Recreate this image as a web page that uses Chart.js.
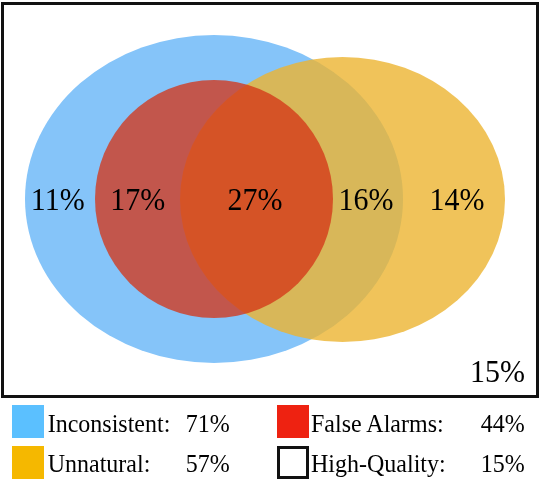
<!DOCTYPE html>
<html>
<head>
<meta charset="utf-8">
<script src="https://cdn.jsdelivr.net/npm/chart.js@4"></script>
<style>
  html, body { margin: 0; padding: 0; background: #fff; }
  #wrap { position: relative; width: 540px; height: 480px; overflow: hidden; font-family: "Liberation Serif", "Times New Roman", serif; color: #000; }
  #c { position: absolute; left: 0; top: 0; }
  #box { position: absolute; left: 1px; top: 2px; width: 538px; height: 396px; border: 3px solid #111; box-sizing: border-box; pointer-events: none; }
  .sw { position: absolute; width: 32px; height: 33px; box-sizing: border-box; }
  .lt { position: absolute; font-size: 24px; line-height: 24px; white-space: nowrap; transform: scaleY(1.06); transform-origin: 0 20px; }
</style>
</head>
<body>
<div id="wrap">
  <canvas id="c" width="540" height="480"></canvas>
  <div id="box"></div>
  <div id="legend"></div>
</div>
<script>
// ---- data ----
const regionNames = ['Inconsistent only', 'Inconsistent + False Alarms', 'All three', 'Inconsistent + Unnatural', 'Unnatural only', 'High-Quality'];
const regionValues = [11, 17, 27, 16, 14, 15];
const setNames = ['Inconsistent', 'Unnatural', 'False Alarms', 'High-Quality'];
const setValues = [71, 57, 44, 15];

// ---- layout (geometry & styles, kept apart from the data) ----
const setShapes = [
  { cx: 214,   cy: 199,   rx: 189,   ry: 164,   fill: 'rgb(133,196,249)' },
  { cx: 342.5, cy: 199.5, rx: 162.5, ry: 142.5, fill: 'rgba(236,180,49,0.8)' },
  { cx: 214,   cy: 199,   rx: 119,   ry: 119,   fill: 'rgba(212,53,23,0.77)' }
];
const regionAnchors = [
  { x: 57.8, y: 209.5 }, { x: 137.8, y: 209.5 }, { x: 255, y: 209.5 },
  { x: 366, y: 210 }, { x: 457, y: 210 }, { x: 497.5, y: 382 }
];
const legendSwatch = ['#5BC0FF', '#F5B800', '#EE2211', '#FFFFFF'];
const legendPos = [
  { sx: 12, sy: 405, tx: 47.7, px: 185.7, ty: 411.6 },
  { sx: 12, sy: 446, tx: 47.7, px: 185.7, ty: 451.6 },
  { sx: 277, sy: 405, tx: 311, px: 480.7, ty: 411.6 },
  { sx: 277, sy: 446, tx: 311, px: 480.7, ty: 451.6 }
];

// ---- chart ----
const datasets = setShapes.map((s, i) => ({
  label: setNames[i],
  data: [{ x: s.cx, y: s.cy }],
  pointRadius: 0,
  backgroundColor: s.fill,
  vennShape: s
}));
datasets.push({
  label: 'regions',
  data: regionAnchors.map(a => ({ x: a.x, y: a.y })),
  pointRadius: 0,
  regionText: regionValues.map(v => v + '%')
});

const vennPlugin = {
  id: 'venn',
  beforeDatasetsDraw(chart) {
    const ctx = chart.ctx, xs = chart.scales.x, ys = chart.scales.y;
    chart.data.datasets.forEach((ds, i) => {
      if (!ds.vennShape) return;
      const el = chart.getDatasetMeta(i).data[0];
      const s = ds.vennShape;
      const rxp = Math.abs(xs.getPixelForValue(s.cx + s.rx) - el.x);
      const ryp = Math.abs(ys.getPixelForValue(s.cy + s.ry) - el.y);
      ctx.save();
      ctx.beginPath();
      ctx.ellipse(el.x, el.y, rxp, ryp, 0, 0, Math.PI * 2);
      ctx.fillStyle = ds.backgroundColor;
      ctx.fill();
      ctx.restore();
    });
  },
  afterDatasetsDraw(chart) {
    const ctx = chart.ctx;
    chart.data.datasets.forEach((ds, i) => {
      if (!ds.regionText) return;
      const meta = chart.getDatasetMeta(i);
      ctx.save();
      ctx.font = '30px "Liberation Serif", "Times New Roman", serif';
      ctx.fillStyle = '#000';
      ctx.textAlign = 'center';
      ctx.textBaseline = 'alphabetic';
      meta.data.forEach((el, j) => {
        ctx.save();
        ctx.translate(el.x, el.y);
        ctx.scale(1, 1.05);
        ctx.fillText(ds.regionText[j], 0, 0);
        ctx.restore();
      });
      ctx.restore();
    });
  }
};

new Chart(document.getElementById('c'), {
  type: 'scatter',
  data: { datasets },
  options: {
    responsive: false,
    animation: false,
    devicePixelRatio: 1,
    layout: { padding: 0 },
    plugins: { legend: { display: false }, tooltip: { enabled: false } },
    scales: {
      x: { type: 'linear', min: 0, max: 540, display: false },
      y: { type: 'linear', min: 0, max: 480, reverse: true, display: false }
    }
  },
  plugins: [vennPlugin]
});

// ---- legend (HTML text) ----
const lg = document.getElementById('legend');
setNames.forEach((name, i) => {
  const p = legendPos[i];
  const sw = document.createElement('div');
  sw.className = 'sw';
  sw.style.left = p.sx + 'px';
  sw.style.top = p.sy + 'px';
  sw.style.background = legendSwatch[i];
  if (i === 3) sw.style.border = '3px solid #111';
  lg.appendChild(sw);
  const t = document.createElement('div');
  t.className = 'lt';
  t.style.left = p.tx + 'px';
  t.style.top = p.ty + 'px';
  t.textContent = name + ':';
  lg.appendChild(t);
  const v = document.createElement('div');
  v.className = 'lt';
  v.style.left = p.px + 'px';
  v.style.top = p.ty + 'px';
  v.textContent = setValues[i] + '%';
  lg.appendChild(v);
});
</script>
</body>
</html>
